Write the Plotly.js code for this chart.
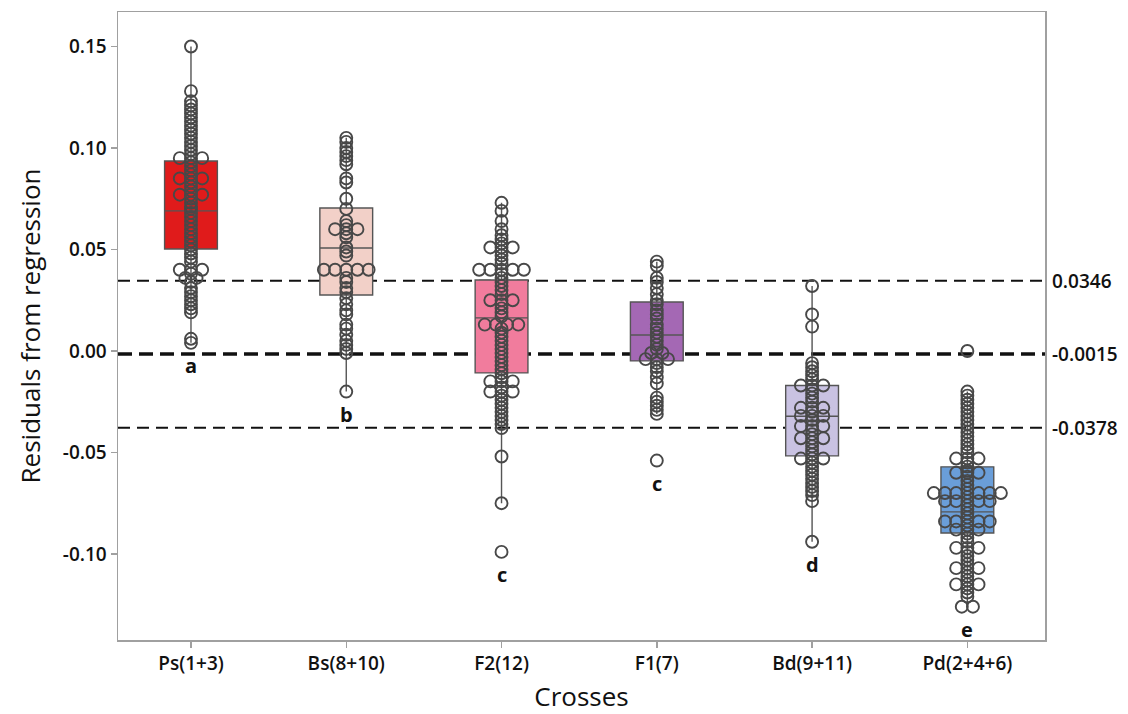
<!DOCTYPE html>
<html>
<head>
<meta charset="utf-8">
<script src="https://cdn.plot.ly/plotly-3.0.1.min.js"></script>
<style>html,body{margin:0;padding:0;background:#fff;}#chart{width:1128px;height:714px;}</style>
</head>
<body>
<div id="chart"></div>
<script>
// ---- data ----
const categories = ["Ps(1+3)", "Bs(8+10)", "F2(12)", "F1(7)", "Bd(9+11)", "Pd(2+4+6)"];
const groupLetters = ["a", "b", "c", "c", "d", "e"];
const yTickValues = [-0.10, -0.05, 0, 0.05, 0.10, 0.15];

const q1 = [0.0502, 0.0276, -0.0108, -0.0049, -0.0517, -0.0897];
const median = [0.0690, 0.0507, 0.0163, 0.0079, -0.0322, -0.0793];
const q3 = [0.0936, 0.0704, 0.0350, 0.0241, -0.0170, -0.0571];
const lowerWhisker = [0.004, -0.020, -0.075, -0.031, -0.094, -0.126];
const upperWhisker = [0.150, 0.105, 0.073, 0.044, 0.032, -0.020];

const refValues = [0.0346, -0.0015, -0.0378];

const psValues = [0.150, 0.128, 0.123, 0.121, 0.119, 0.117, 0.115, 0.113, 0.111, 0.109, 0.107, 0.105,
  0.103, 0.101, 0.099, 0.097, 0.095, 0.095, 0.095, 0.093, 0.091, 0.089, 0.087, 0.085, 0.085, 0.085,
  0.083, 0.081, 0.079, 0.077, 0.077, 0.077, 0.075, 0.073, 0.071, 0.070, 0.068, 0.066, 0.064, 0.062,
  0.060, 0.058, 0.056, 0.054, 0.052, 0.050, 0.048, 0.046, 0.044, 0.040, 0.040, 0.040, 0.038, 0.036,
  0.036, 0.034, 0.031, 0.029, 0.027, 0.025, 0.023, 0.021, 0.019, 0.006, 0.004];
const bsValues = [0.105, 0.103, 0.100, 0.098, 0.096, 0.094, 0.092, 0.085, 0.083, 0.075, 0.070, 0.064,
  0.062, 0.060, 0.060, 0.060, 0.058, 0.056, 0.051, 0.049, 0.047, 0.040, 0.040, 0.040, 0.040, 0.040,
  0.036, 0.034, 0.031, 0.029, 0.026, 0.023, 0.020, 0.018, 0.013, 0.011, 0.008, 0.005, 0.003, 0.001,
  -0.001, -0.020];
const f2Values = [0.073, 0.069, 0.064, 0.060, 0.057, 0.055, 0.053, 0.051, 0.051, 0.051, 0.049, 0.047,
  0.045, 0.043, 0.040, 0.040, 0.040, 0.040, 0.040, 0.038, 0.036, 0.034, 0.032, 0.030, 0.028, 0.025,
  0.025, 0.025, 0.023, 0.021, 0.019, 0.017, 0.013, 0.013, 0.013, 0.013, 0.011, 0.009, 0.007, 0.005,
  0.003, 0.001, -0.001, -0.003, -0.005, -0.007, -0.009, -0.011, -0.013, -0.015, -0.015, -0.015,
  -0.018, -0.020, -0.020, -0.020, -0.022, -0.024, -0.026, -0.028, -0.030, -0.032, -0.034, -0.036,
  -0.038, -0.052, -0.075, -0.099];
const f1Values = [0.044, 0.042, 0.036, 0.034, 0.031, 0.028, 0.025, 0.023, 0.020, 0.018, 0.016, 0.013,
  0.011, 0.009, 0.007, 0.005, 0.003, 0.001, -0.001, -0.001, -0.004, -0.004, -0.004, -0.006, -0.008,
  -0.010, -0.013, -0.016, -0.023, -0.025, -0.027, -0.029, -0.031, -0.054];
const bdValues = [0.032, 0.018, 0.012, -0.006, -0.008, -0.010, -0.012, -0.014, -0.017, -0.017, -0.017,
  -0.019, -0.021, -0.023, -0.025, -0.028, -0.028, -0.028, -0.030, -0.032, -0.032, -0.032, -0.034,
  -0.037, -0.037, -0.037, -0.039, -0.041, -0.043, -0.043, -0.043, -0.045, -0.047, -0.049, -0.051,
  -0.053, -0.053, -0.053, -0.055, -0.057, -0.059, -0.061, -0.063, -0.065, -0.067, -0.069, -0.071,
  -0.074, -0.094];
const pdValues = [0.000, -0.020, -0.022, -0.024, -0.026, -0.028, -0.030, -0.032, -0.034, -0.036, -0.038,
  -0.040, -0.042, -0.044, -0.046, -0.048, -0.050, -0.053, -0.053, -0.053, -0.055, -0.057, -0.059,
  -0.060, -0.060, -0.060, -0.062, -0.064, -0.066, -0.068, -0.070, -0.070, -0.070, -0.070, -0.070,
  -0.070, -0.070, -0.072, -0.074, -0.074, -0.074, -0.074, -0.074, -0.076, -0.078, -0.080, -0.082,
  -0.084, -0.084, -0.084, -0.084, -0.084, -0.086, -0.088, -0.088, -0.088, -0.090, -0.092, -0.094,
  -0.097, -0.097, -0.097, -0.099, -0.101, -0.103, -0.105, -0.107, -0.107, -0.107, -0.109, -0.111,
  -0.113, -0.115, -0.115, -0.115, -0.117, -0.119, -0.121, -0.126, -0.126];

const groupValues = [psValues, bsValues, f2Values, f1Values, bdValues, pdValues];

// ---- styles ----
const boxColors = ["#e01b1b", "#f2d0c8", "#f17c9d", "#a468b4", "#c9c2e2", "#6a9ed9"];
const FONT = "Open Sans, Noto Sans, sans-serif";
const TIE = 0.072; // horizontal spread for tied values (category units)

function tieOffsets(vals) {
  const counts = {}; const seen = {};
  vals.forEach(v => { counts[v] = (counts[v] || 0) + 1; });
  return vals.map(v => {
    const n = counts[v];
    const k = seen[v] = (seen[v] || 0) + 1;
    return (k - 1 - (n - 1) / 2) * TIE;
  });
}

const traces = [];
categories.forEach((c, i) => {
  traces.push({
    type: "box", x: [i],
    q1: [q1[i]], median: [median[i]], q3: [q3[i]],
    lowerfence: [lowerWhisker[i]], upperfence: [upperWhisker[i]],
    width: 0.34, whiskerwidth: 0, boxpoints: false,
    fillcolor: boxColors[i], line: { color: "#555555", width: 1.4 },
    hoverinfo: "skip", showlegend: false
  });
});
groupValues.forEach((vals, i) => {
  const offs = tieOffsets(vals);
  traces.push({
    type: "scatter", mode: "markers",
    x: vals.map((v, j) => i + offs[j]), y: vals,
    marker: { symbol: "circle-open", size: 12, color: "#484848", line: { width: 1.9 } },
    hoverinfo: "skip", showlegend: false, cliponaxis: false
  });
});

const shapes = refValues.map((v, k) => ({
  type: "line", xref: "paper", x0: 0, x1: 1, yref: "y", y0: v, y1: v, layer: "below",
  line: { color: "#111111", width: k === 1 ? 3.5 : 2, dash: k === 1 ? "14px,7px" : "12px,7px" }
}));

const annotations = [];
refValues.forEach(v => {
  annotations.push({
    xref: "paper", x: 1, xanchor: "left", xshift: 5, yref: "y", y: v, yanchor: "middle",
    text: v.toFixed(4), showarrow: false,
    font: { family: FONT, size: 19, color: "#111111", weight: 600 }
  });
});
groupValues.forEach((vals, i) => {
  annotations.push({
    xref: "x", x: i, yref: "y", y: Math.min(...vals), yanchor: "top", yshift: -7,
    text: groupLetters[i], showarrow: false,
    font: { family: FONT, size: 20, color: "#111111", weight: 700 }
  });
});

const layout = {
  width: 1128, height: 714,
  margin: { l: 118, r: 83, t: 12, b: 74 },
  paper_bgcolor: "#ffffff", plot_bgcolor: "#ffffff",
  font: { family: FONT, color: "#111111" },
  showlegend: false,
  xaxis: {
    range: [-0.47, 5.5], tickvals: categories.map((c, i) => i), ticktext: categories,
    showgrid: false, zeroline: false, showline: true, mirror: true,
    linecolor: "#a0a0a0", linewidth: 1.5,
    ticks: "outside", ticklen: 6, tickcolor: "#a0a0a0", tickwidth: 1.5,
    tickfont: { family: FONT, size: 19, color: "#111111", weight: 600 },
    title: { text: "Crosses", font: { family: FONT, size: 26, color: "#111111", weight: 500 }, standoff: 14 }
  },
  yaxis: {
    range: [-0.1424, 0.167], tickvals: yTickValues, ticktext: yTickValues.map(v => v.toFixed(2)),
    showgrid: false, zeroline: false, showline: true, mirror: true,
    linecolor: "#a0a0a0", linewidth: 1.5,
    ticks: "outside", ticklen: 6, tickcolor: "#a0a0a0", tickwidth: 1.5,
    tickfont: { family: FONT, size: 19, color: "#111111", weight: 600 },
    title: { text: "Residuals from regression", font: { family: FONT, size: 26, color: "#111111", weight: 500 }, standoff: 14 }
  },
  shapes: shapes,
  annotations: annotations
};

Plotly.newPlot("chart", traces, layout, { displayModeBar: false, staticPlot: true });
</script>
</body>
</html>
